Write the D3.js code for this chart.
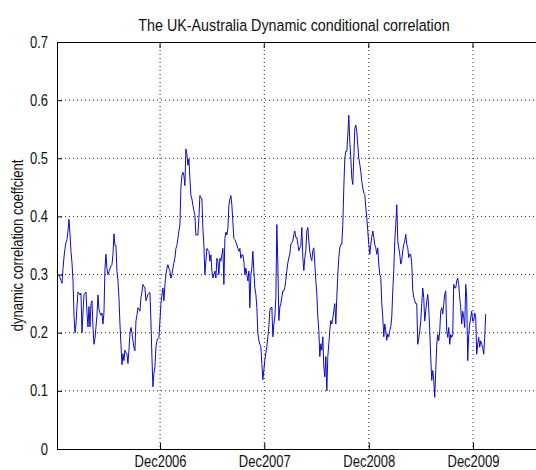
<!DOCTYPE html>
<html><head><meta charset="utf-8">
<script src="https://cdn.jsdelivr.net/npm/d3@7"></script>
<style>
body{margin:0;background:#fff}
svg{display:block}
text{font-family:"Liberation Sans",Arial,sans-serif;fill:#111;transform-box:fill-box;transform-origin:center;transform:scale(1,1.2)}
</style>
</head><body><svg id="c" width="536" height="470"></svg>
<script>
const title = "The UK-Australia Dynamic conditional correlation";
const yLabel = "dynamic correlation coeffcient";
const xTickLabels = ["Dec2006","Dec2007","Dec2008","Dec2009"];
const xTickDates = ["2006-12-01","2007-12-01","2008-12-01","2009-12-01"];
const yTicks = [0,0.1,0.2,0.3,0.4,0.5,0.6,0.7];
const seriesStart = "2005-12-05";   // observations every 3.5 days from this date
const stepHours = 84;
const dcc = [
.305,.300,.298,.295,.290,.285,.310,.330,.345,.355,
.360,.375,.395,.370,.340,.320,.290,.230,.200,.215,
.245,.270,.268,.265,.268,.200,.234,.265,.268,.270,
.234,.210,.245,.210,.250,.255,.210,.180,.190,.210,
.230,.265,.240,.234,.230,.234,.215,.234,.310,.335,
.310,.300,.305,.310,.315,.317,.334,.370,.350,.350,
.305,.290,.260,.215,.180,.145,.164,.152,.170,.165,
.164,.147,.170,.198,.209,.200,.186,.175,.169,.220,
.230,.243,.240,.237,.260,.270,.283,.280,.277,.255,
.260,.266,.268,.269,.220,.158,.107,.130,.141,.175,
.186,.190,.192,.220,.249,.265,.277,.255,.283,.300,
.311,.317,.310,.306,.294,.300,.311,.320,.328,.345,
.350,.362,.375,.385,.450,.470,.476,.470,.453,.516,
.507,.488,.499,.465,.436,.430,.419,.410,.402,.368,
.368,.368,.397,.436,.433,.430,.379,.351,.300,.323,
.345,.342,.340,.323,.334,.306,.294,.300,.306,.294,
.328,.323,.300,.328,.323,.334,.345,.283,.362,.373,
.368,.379,.419,.430,.436,.419,.390,.362,.360,.356,
.351,.345,.340,.345,.328,.334,.334,.323,.300,.311,
.300,.289,.306,.243,.300,.311,.340,.306,.277,.266,
.243,.198,.187,.180,.176,.147,.119,.136,.153,.165,
.176,.193,.210,.238,.243,.244,.193,.215,.227,.261,
.386,.318,.221,.244,.250,.261,.272,.272,.278,.290,
.307,.320,.329,.335,.352,.355,.358,.369,.375,.364,
.364,.352,.341,.346,.350,.381,.329,.307,.329,.341,
.375,.381,.358,.340,.329,.324,.341,.346,.318,.290,
.267,.227,.204,.159,.181,.170,.193,.141,.124,.159,
.100,.159,.181,.204,.221,.215,.225,.238,.250,.215,
.261,.300,.329,.346,.352,.352,.386,.449,.500,.512,
.512,.540,.574,.529,.500,.466,.455,.500,.551,.557,
.546,.523,.500,.490,.477,.460,.449,.440,.438,.415,
.398,.375,.352,.335,.352,.364,.375,.364,.352,.346,
.335,.346,.318,.300,.295,.250,.227,.193,.215,.204,
.187,.198,.193,.204,.210,.227,.272,.307,.358,.386,
.420,.358,.346,.335,.318,.324,.341,.352,.358,.369,
.352,.346,.329,.335,.335,.318,.272,.261,.255,.250,
.250,.180,.190,.203,.220,.250,.277,.260,.220,.237,
.254,.266,.243,.203,.158,.118,.135,.118,.089,.135,
.180,.197,.186,.203,.237,.243,.232,.249,.266,.272,
.203,.192,.209,.180,.197,.192,.197,.283,.277,.277,
.289,.294,.283,.260,.243,.215,.237,.226,.209,.283,
.260,.152,.197,.215,.226,.237,.220,.220,.234,.226,
.163,.180,.192,.175,.186,.180,.175,.163,.192,.232
];

const parse = d3.timeParse("%Y-%m-%d");
const t0 = parse(seriesStart);
const data = dcc.map((v,i)=>({date:d3.timeHour.offset(t0,i*stepHours), v}));

const L = 57, R = 545, T = 42, B = 449;
const x = d3.scaleTime().domain([t0, parse("2009-12-01")]).range([L, 473]);
const xFull = x.copy().domain([x.invert(L), x.invert(R)]).range([L, R]);
const y = d3.scaleLinear().domain([0,0.7]).range([B,T]);

const svg = d3.select("#c");
svg.append("rect").attr("width",536).attr("height",470).attr("fill","#fff");

const g = svg.append("g");
// grid
g.append("g").selectAll("line").data(yTicks.slice(1,-1)).join("line")
  .attr("x1",L).attr("x2",R).attr("y1",d=>y(d)).attr("y2",d=>y(d))
  .attr("stroke","#222").attr("stroke-width",1).attr("stroke-dasharray","1,3");
g.append("g").selectAll("line").data(xTickDates.map(parse)).join("line")
  .attr("x1",d=>xFull(d)).attr("x2",d=>xFull(d)).attr("y1",T).attr("y2",B)
  .attr("stroke","#222").attr("stroke-width",1).attr("stroke-dasharray","1,3");

// line
g.append("path").datum(data)
  .attr("fill","none").attr("stroke","#0a0ad0").attr("stroke-width",1)
  .attr("stroke-linejoin","round")
  .attr("d", d3.line().x(d=>xFull(d.date)).y(d=>y(d.v)));

// axes
const ax = g.append("g").attr("transform",`translate(${L},0)`)
  .call(d3.axisLeft(y).tickValues(yTicks).tickSize(-5).tickPadding(9)
        .tickFormat(d=>d===0?"0":d.toFixed(1)));
const bx = g.append("g").attr("transform",`translate(0,${B})`)
  .call(d3.axisBottom(xFull).tickValues(xTickDates.map(parse)).tickSize(-6).tickPadding(8)
        .tickFormat((d,i)=>xTickLabels[i]));
[ax,bx].forEach(a=>{
  a.selectAll("path.domain").attr("stroke","#000");
  a.selectAll(".tick line").attr("stroke","#000");
  a.selectAll("text").attr("font-size",13).attr("fill","#111");
});
// top border
g.append("line").attr("x1",L).attr("x2",R).attr("y1",T+0.5).attr("y2",T+0.5).attr("stroke","#000");
g.append("g").selectAll("line").data(xTickDates.map(parse)).join("line")
  .attr("x1",d=>xFull(d)).attr("x2",d=>xFull(d)).attr("y1",T).attr("y2",T+6).attr("stroke","#000");

// title
svg.append("text").attr("x",294).attr("y",30).attr("text-anchor","middle")
  .attr("font-size",14.3).text(title);
// y label
svg.append("g").attr("transform",`translate(22,${(T+B)/2}) rotate(-90)`)
  .append("text").attr("text-anchor","middle").attr("font-size",13).text(yLabel);
</script>
</body></html>
